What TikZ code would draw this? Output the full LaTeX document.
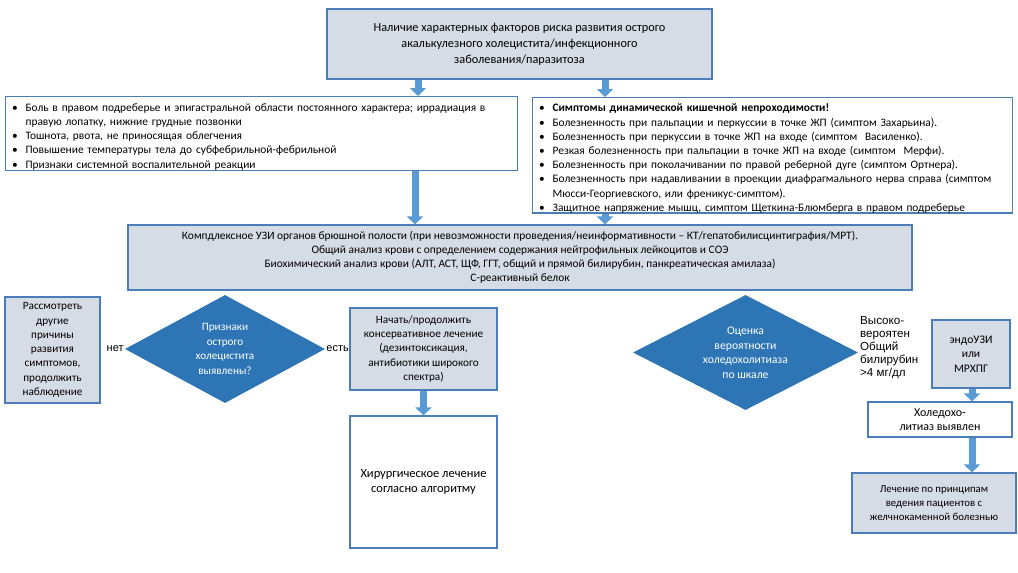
\documentclass[tikz,border=0pt]{standalone}
\usepackage{fontspec}
\setmainfont{Carlito}
\newfontfamily\arialf{Liberation Sans}
\usetikzlibrary{shapes.geometric,arrows.meta}
\definecolor{greyc}{HTML}{D6DCE5}
\definecolor{bordc}{HTML}{4A7EBB}
\definecolor{diac}{HTML}{2E75B6}
\definecolor{arrc}{HTML}{5B9BD5}
\newcommand\bitem[1]{\par\hangindent=15pt\hangafter=1\noindent\makebox[15pt][l]{\hspace{1.5pt}\textbullet}{#1}}
\tikzset{
  gbox/.style={draw=bordc, line width=1.2pt, fill=greyc, align=center, inner sep=0pt, font=\fontsize{11.2}{14.3}\selectfont},
  wbox/.style={gbox, fill=white},
  lbox/.style={draw=bordc, line width=1.2pt, fill=white, align=left, inner xsep=5pt, inner ysep=0pt, anchor=north west, font=\fontsize{11.4}{14.2}\selectfont},
  dia/.style={diamond, fill=diac, draw=none, text=white, align=center, inner sep=0pt, font=\fontsize{11.2}{14.5}\selectfont},
  lbl/.style={inner sep=0pt, font=\arialf\fontsize{11}{13.8}\selectfont},
  barrow/.style={line width=7pt, draw=arrc, -{Triangle[width=16pt,length=8pt]}}
}
\begin{document}
\begin{tikzpicture}[x=1pt,y=-1pt]
\useasboundingbox (0,0) rectangle (1018,573);

\node[gbox, minimum width=385pt, minimum height=70pt, font=\fontsize{12.3}{16}\selectfont] (top) at (519.5,44)
 {Наличие характерных факторов риска развития острого\\акалькулезного холецистита/инфекционного\\заболевания/паразитоза};

\node[lbox, minimum width=512pt, minimum height=74pt, text width=502pt] (llist) at (5,96)
 {\bitem{Боль в правом подреберье и эпигастральной области постоянного характера; иррадиация в\newline правую лопатку, нижние грудные позвонки}
  \bitem{Тошнота, рвота, не приносящая облегчения}
  \bitem{Повышение температуры тела до субфебрильной-фебрильной}
  \bitem{Признаки системной воспалительной реакции}};

\node[lbox, minimum width=480pt, minimum height=114pt, text width=470pt] (rlist) at (532,97)
 {\bitem{\bfseries Симптомы динамической кишечной непроходимости!}
  \bitem{Болезненность при пальпации и перкуссии в точке ЖП (симптом Захарьина).}
  \bitem{Болезненность при перкуссии в точке ЖП на входе (симптом \ Василенко).}
  \bitem{Резкая болезненность при пальпации в точке ЖП на входе (симптом \ Мерфи).}
  \bitem{Болезненность при поколачивании по правой реберной дуге (симптом Ортнера).}
  \bitem{Болезненность при надавливании в проекции диафрагмального нерва справа (симптом\newline Мюсси-Георгиевского, или френикус-симптом).}
  \bitem{Защитное напряжение мышц, симптом Щеткина-Блюмберга в правом подреберье}};

\node[gbox, minimum width=784pt, minimum height=65pt, font=\fontsize{11.4}{14}\selectfont] (mid) at (520,257.5)
 {Компдлексное УЗИ органов брюшной полости (при невозможности проведения/неинформативности -- КТ/гепатобилисцинтиграфия/МРТ).\\
  Общий анализ крови с определением содержания нейтрофильных лейкоцитов и СОЭ\\
  Биохимический анализ крови (АЛТ, АСТ, ЩФ, ГГТ, общий и прямой билирубин, панкреатическая амилаза)\\
  С-реактивный белок};

\node[gbox, minimum width=95pt, minimum height=106pt] (other) at (52.5,350)
 {Рассмотреть\\другие\\причины\\развития\\симптомов,\\продолжить\\наблюдение};

\node[dia, minimum width=200pt, minimum height=108pt, aspect=1.85] (d1) at (225,349)
 {Признаки\\острого\\холецистита\\выявлены?};
\node[lbl, anchor=east] (net) at ([xshift=-1pt]d1.west) {нет};
\node[lbl, anchor=west] (est) at ([xshift=1pt]d1.east) {есть};

\node[gbox, minimum width=147pt, minimum height=82pt] (cons) at (423.5,349)
 {Начать/продолжить\\консервативное лечение\\(дезинтоксикация,\\антибиотики широкого\\спектра)};
\node[wbox, minimum width=147pt, minimum height=132pt, font=\fontsize{12.5}{15.5}\selectfont] (surg) at (423.5,482)
 {Хирургическое лечение\\согласно алгоритму};

\node[dia, minimum width=225pt, minimum height=115pt, aspect=1.95, font=\fontsize{11.7}{14.5}\selectfont] (d2) at (745.5,352.5)
 {Оценка\\вероятности\\холедохолитиаза\\по шкале};
\node[lbl, anchor=north west, align=left, font=\arialf\fontsize{11.6}{13}\selectfont] (prob) at (860,316.5)
 {Высоко-\\вероятен\\Общий\\билирубин\\>4 мг/дл};

\node[gbox, minimum width=78pt, minimum height=68pt, font=\fontsize{11.6}{14.5}\selectfont] (endo) at (971,354)
 {эндоУЗИ\\или\\МРХПГ};
\node[wbox, minimum width=144pt, minimum height=35pt, font=\fontsize{12}{14.5}\selectfont] (found) at (940,419.5)
 {Холедохо-\\литиаз выявлен};
\node[gbox, minimum width=164pt, minimum height=60pt, font=\fontsize{10.8}{14.2}\selectfont] (treat) at (934,503)
 {Лечение по принципам\\ведения пациентов с\\желчнокаменной болезнью};

\coordinate (xa) at (418,0);
\coordinate (xb) at (605,0);
\coordinate (xc) at (415,0);
\coordinate (xd) at (423.5,0);
\coordinate (xe) at (972,0);
\draw[barrow] (top.south -| xa) -- (llist.north -| xa);
\draw[barrow] (top.south -| xb) -- (rlist.north -| xb);
\draw[barrow] (llist.south -| xc) -- (mid.north -| xc);
\draw[barrow] (rlist.south -| xb) -- (mid.north -| xb);
\draw[barrow] (cons.south -| xd) -- (surg.north -| xd);
\draw[barrow] (endo.south -| xe) -- (found.north -| xe);
\draw[barrow] (found.south -| xe) -- (treat.north -| xe);
\end{tikzpicture}
\end{document}
